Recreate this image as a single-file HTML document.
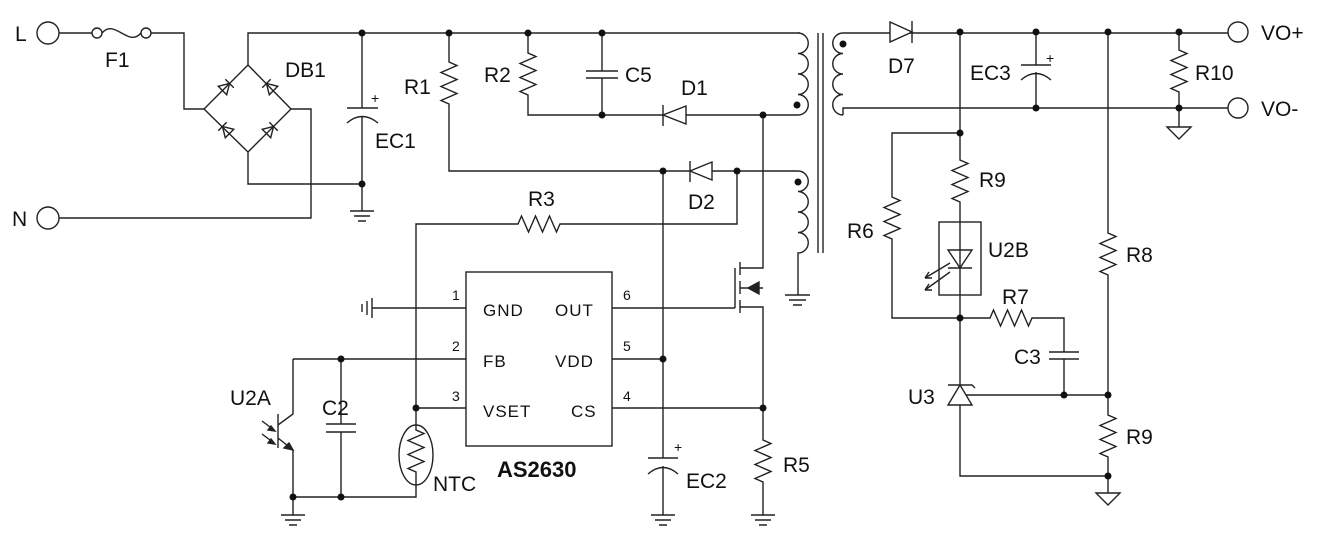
<!DOCTYPE html>
<html><head><meta charset="utf-8"><style>
html,body{margin:0;padding:0;background:#fff;}
svg{display:block;}
text{font-family:"Liberation Sans",Arial,sans-serif;fill:#111;}
.l{font-size:21px;}
.p{font-size:17px;letter-spacing:1px;}
.n{font-size:14px;}
</style></head><body>
<svg width="1331" height="555" viewBox="0 0 1331 555" xmlns="http://www.w3.org/2000/svg">
<g fill="none" stroke="#222" stroke-width="1.4">
<circle cx="48" cy="33" r="11"/>
<circle cx="48" cy="218" r="11"/>
<path d="M59 33H92"/>
<circle cx="97" cy="33" r="5"/><circle cx="146" cy="33" r="5"/>
<path d="M102 33C115 18 128 48 141 33"/>
<path d="M151 33H184V109H204"/>
<path d="M59 218H311V109H291"/>
<path d="M204 109L248 65L291 109L248 152Z"/>
<path d="M248 65V33H800"/>
<path d="M248 152V184H362"/>
<g transform="translate(226,87) rotate(-45)"><path d="M-5 -6L5 0L-5 6Z M5 -6V6"/></g>
<g transform="translate(270,87) rotate(-135)"><path d="M-5 -6L5 0L-5 6Z M5 -6V6"/></g>
<g transform="translate(226,130) rotate(-135)"><path d="M-5 -6L5 0L-5 6Z M5 -6V6"/></g>
<g transform="translate(270,130) rotate(-45)"><path d="M-5 -6L5 0L-5 6Z M5 -6V6"/></g>
<path d="M362 33V108M347 108H378M347 123Q362 110 378 123M362 116V211"/>
<path d="M350 211H374M354 216H370M358 221H366"/>
<path d="M449 33V62l8 3.5l-16 7l16 7l-16 7l16 7l-16 7l8 3.5V171H798"/>
<path d="M528 33V53l8 3.5l-16 7l16 7l-16 7l16 7l-16 7l8 3.5V115H798"/>
<path d="M602 33V71M586 71H618M586 78H618M602 78V115"/>
<path fill="#fff" d="M686 106L663 115L686 124Z"/><path d="M663 105V126"/>
<path fill="#fff" d="M712 162L690 171L712 180Z"/><path d="M690 161V182"/>
<path d="M416 408V224H518l3.5 -8l7 16l7 -16l7 16l7 -16l7 16l3.5 -8H737V171"/>
<path d="M798 33a10.25 10.25 0 0 1 0 20.5a10.25 10.25 0 0 1 0 20.5a10.25 10.25 0 0 1 0 20.5a10.25 10.25 0 0 1 0 20.5"/>
<path d="M798 171a10.25 10.25 0 0 1 0 20.5a10.25 10.25 0 0 1 0 20.5a10.25 10.25 0 0 1 0 20.5a10.25 10.25 0 0 1 0 20.5V295"/>
<path d="M785 295H810M789 300H806M793 305H802"/>
<path d="M818 33V253M823 33V253"/>
<path d="M843 33a10.25 10.25 0 0 0 0 20.5a10.25 10.25 0 0 0 0 20.5a10.25 10.25 0 0 0 0 20.5a10.25 10.25 0 0 0 0 20.5"/>
<path d="M843 33H1228M843 115V108H1228"/>
<path d="M763 115V268H740M740 307H763V408M763 288H740"/>
<path fill="#222" d="M748 288L759 282V294Z"/>
<path d="M735 268V308M740 262V275M740 281V294M740 300V313"/>
<path d="M612 308H735"/>
<rect x="466" y="272" width="146" height="174"/>
<path d="M372 308H466M372 298V318M367 301V315M362 304V312"/>
<path d="M293 359H466M612 359H663M416 408H466M612 408H763"/>
<path d="M663 171V458M648 458H678M648 474Q663 461 678 474M663 466V515"/>
<path d="M651 515H675M655 520H671M659 525H667"/>
<path d="M763 408V440l8 3.5l-16 7l16 7l-16 7l16 7l-16 7l8 3.5V515"/>
<path d="M751 515H775M755 520H771M759 525H767"/>
<path d="M278 414V448M278 425L293 414V359M278 438L293 450V497"/>
<path fill="#222" d="M293 450L284 448L289 443Z"/>
<path d="M262 421L274 430M262 434L274 443"/>
<path fill="#222" d="M275 431L268 430L271 426Z M275 444L268 443L271 439Z"/>
<path d="M341 359V424M326 424H356M326 432H356M341 432V497"/>
<path d="M293 497H416V486M293 497V515M281 515H305M285 520H301M289 525H297"/>
<ellipse cx="416" cy="455" rx="17" ry="30"/>
<path d="M416 408V430l8 3.5l-16 7l16 7l-16 7l16 7l-16 7l8 3.5V486"/>
<path fill="#fff" d="M890 22L912 32L890 42Z"/><path d="M912 21V43"/>
<circle cx="1238" cy="32" r="10" fill="#fff"/>
<circle cx="1238" cy="108" r="10" fill="#fff"/>
<path d="M1036 32V65M1021 65H1051M1021 80Q1036 67 1051 80M1036 72V108"/>
<path d="M1179 32V50l8 3.5l-16 7l16 7l-16 7l16 7l-16 7l8 3.5V127"/>
<path d="M1167 127H1191L1179 139Z"/>
<path d="M960 32V160l8 3.5l-16 7l16 7l-16 7l16 7l-16 7l8 3.5V385"/>
<path d="M960 133H892V197l8 3.5l-16 7l16 7l-16 7l16 7l-16 7l8 3.5V318H960"/>
<rect x="939" y="222" width="42" height="73"/>
<path d="M948 250H972L960 268Z M948 268H972"/>
<path d="M950 263L925 278M950 272L925 290"/>
<path d="M925 278l4 -6M925 278l7 0M925 290l4 -6M925 290l7 0"/>
<path d="M960 318H990l3.5 -8l7 16l7 -16l7 16l7 -16l7 16l3.5 -8H1064V352M1049 352H1079M1049 359H1079M1064 359V395"/>
<path d="M948 405H972L960 385Z M948 385H972l3 3"/>
<path d="M966 395H1108M960 405V476H1108"/>
<path d="M1108 32V233l8 3.5l-16 7l16 7l-16 7l16 7l-16 7l8 3.5V415l8 3.5l-16 7l16 7l-16 7l16 7l-16 7l8 3.5V493"/>
<path d="M1096 493H1120L1108 505Z"/>
</g>
<g fill="#111">
<circle cx="362" cy="33" r="3.5"/><circle cx="362" cy="184" r="3.5"/>
<circle cx="449" cy="33" r="3.5"/><circle cx="528" cy="33" r="3.5"/><circle cx="602" cy="33" r="3.5"/>
<circle cx="602" cy="115" r="3.5"/><circle cx="763" cy="115" r="3.5"/>
<circle cx="663" cy="171" r="3.5"/><circle cx="737" cy="171" r="3.5"/>
<circle cx="797" cy="105" r="3.5"/><circle cx="798" cy="182" r="3.5"/><circle cx="843" cy="44" r="3.5"/>
<circle cx="341" cy="359" r="3.5"/><circle cx="663" cy="359" r="3.5"/>
<circle cx="416" cy="408" r="3.5"/><circle cx="763" cy="408" r="3.5"/>
<circle cx="293" cy="497" r="3.5"/><circle cx="341" cy="497" r="3.5"/>
<circle cx="960" cy="32" r="3.5"/><circle cx="1036" cy="32" r="3.5"/><circle cx="1108" cy="32" r="3.5"/><circle cx="1179" cy="32" r="3.5"/>
<circle cx="1036" cy="108" r="3.5"/><circle cx="1179" cy="108" r="3.5"/>
<circle cx="960" cy="133" r="3.5"/><circle cx="960" cy="318" r="3.5"/>
<circle cx="1064" cy="395" r="3.5"/><circle cx="1108" cy="395" r="3.5"/><circle cx="1108" cy="476" r="3.5"/>
</g>
<text class="l" x="15" y="41">L</text>
<text class="l" x="12" y="226">N</text>
<text class="l" x="105" y="67">F1</text>
<text class="l" x="285" y="77">DB1</text>
<text class="n" x="371" y="103">+</text>
<text class="l" x="375" y="148">EC1</text>
<text class="l" x="404" y="94">R1</text>
<text class="l" x="484" y="82">R2</text>
<text class="l" x="625" y="82">C5</text>
<text class="l" x="681" y="95">D1</text>
<text class="l" x="688" y="209">D2</text>
<text class="l" x="528" y="206">R3</text>
<text class="l" x="888" y="73">D7</text>
<text class="l" x="970" y="80">EC3</text>
<text class="n" x="1046" y="63">+</text>
<text class="l" x="1195" y="80">R10</text>
<text class="l" x="1261" y="40">VO+</text>
<text class="l" x="1261" y="116">VO-</text>
<text class="l" x="979" y="187">R9</text>
<text class="l" x="847" y="238">R6</text>
<text class="l" x="988" y="257">U2B</text>
<text class="l" x="1126" y="262">R8</text>
<text class="l" x="1002" y="304">R7</text>
<text class="l" x="1014" y="364">C3</text>
<text class="l" x="908" y="404">U3</text>
<text class="l" x="1126" y="444">R9</text>
<text class="p" x="483" y="316">GND</text>
<text class="p" x="555" y="316">OUT</text>
<text class="p" x="483" y="367">FB</text>
<text class="p" x="555" y="367">VDD</text>
<text class="p" x="483" y="417">VSET</text>
<text class="p" x="571" y="417">CS</text>
<text class="n" x="452" y="300">1</text>
<text class="n" x="452" y="351">2</text>
<text class="n" x="452" y="401">3</text>
<text class="n" x="623" y="300">6</text>
<text class="n" x="623" y="351">5</text>
<text class="n" x="623" y="401">4</text>
<text x="497" y="477" style="font-size:22px;font-weight:bold">AS2630</text>
<text class="l" x="230" y="405">U2A</text>
<text class="l" x="322" y="415">C2</text>
<text class="l" x="433" y="491">NTC</text>
<text class="n" x="674" y="452">+</text>
<text class="l" x="686" y="488">EC2</text>
<text class="l" x="783" y="472">R5</text>
</svg>
</body></html>
